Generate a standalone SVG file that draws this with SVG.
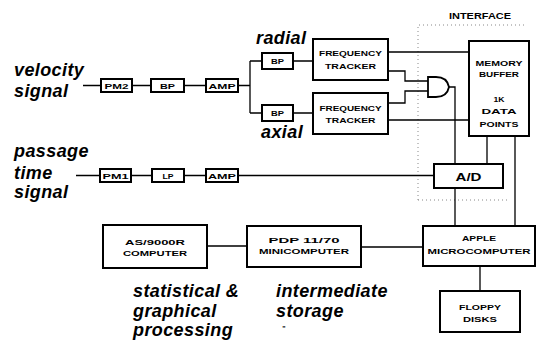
<svg xmlns="http://www.w3.org/2000/svg" width="537" height="340" viewBox="0 0 537 340">
<style>
.bx{fill:#fff;stroke:#000;stroke-width:2}
.ln{fill:none;stroke:#000;stroke-width:1.3}
.gate{fill:#fff;stroke:#000;stroke-width:1.8}
.t{font-family:"Liberation Sans",Arial,sans-serif;font-weight:bold;font-size:8px;text-anchor:middle;fill:#000}
.tb{font-family:"Liberation Sans",Arial,sans-serif;font-weight:bold;font-size:10px;text-anchor:middle;fill:#000}
.lab{font-family:"Liberation Sans",Arial,sans-serif;font-weight:bold;font-style:italic;font-size:18px;letter-spacing:0.4px;fill:#000}
.dot{fill:none;stroke:#888;stroke-width:1;stroke-dasharray:1 3}
</style>
<rect width="537" height="340" fill="#fff"/>

<g id="connectors">
  <path class="dot" d="M418 200 V25 H527 M418 200 H510"/>
  <path class="ln" d="M83 85.5 H101 M132 85.5 H151 M184 85.5 H206 M238 85.5 H250 M250 61 V113 M250 61 H262 M250 113 H262"/>
  <path class="ln" d="M293 61 H313 M293 113 H313"/>
  <path class="ln" d="M388 52 H469 M388 71 H405 V81 H428 M388 103 H405 V91 H428 M388 120 H469"/>
  <path class="ln" d="M449 87 H455 V164"/>
  <path class="ln" d="M487 136 V164 M515 136 V226"/>
  <path class="ln" d="M76 175.5 H100 M131 175.5 H152 M184 175.5 H206 M238 175.5 H434"/>
  <path class="ln" d="M455 188 V226"/>
  <path class="ln" d="M207 246 H247 M361 247 H423 M480 266 V291"/>
</g>

<g id="label-velocity"><text class="lab" x="14" y="76">velocity</text><text class="lab" x="14" y="97">signal</text></g>
<g id="label-passage"><text class="lab" x="14" y="157">passage</text><text class="lab" x="14" y="179">time</text><text class="lab" x="14" y="198">signal</text></g>
<g id="label-radial"><text class="lab" x="256" y="44">radial</text></g>
<g id="label-axial"><text class="lab" x="261" y="138">axial</text></g>
<g id="label-stat"><text class="lab" x="133" y="297">statistical &amp;</text><text class="lab" x="133" y="317">graphical</text><text class="lab" x="133" y="336">processing</text></g>
<g id="label-inter"><text class="lab" x="276" y="297">intermediate</text><text class="lab" x="276" y="317">storage</text><text class="t" x="284" y="331" style="font-size:7px">"</text></g>
<g id="label-interface"><text class="tb" x="480" y="19" style="font-size:9px" textLength="62" lengthAdjust="spacingAndGlyphs">INTERFACE</text></g>

<g id="pm2"><rect class="bx" x="101" y="79" width="31" height="13"/><text class="t" x="116.5" y="88.5" textLength="24" lengthAdjust="spacingAndGlyphs">PM2</text></g>
<g id="bp1"><rect class="bx" x="151" y="79" width="33" height="13"/><text class="t" x="167.5" y="88.5" textLength="15" lengthAdjust="spacingAndGlyphs">BP</text></g>
<g id="amp1"><rect class="bx" x="206" y="79" width="32" height="13"/><text class="t" x="222" y="88.5" textLength="27" lengthAdjust="spacingAndGlyphs">AMP</text></g>

<g id="bp-radial"><rect class="bx" x="262" y="53" width="31" height="16"/><text class="t" x="277.5" y="64" textLength="13" lengthAdjust="spacingAndGlyphs">BP</text></g>
<g id="bp-axial"><rect class="bx" x="262" y="105" width="31" height="16"/><text class="t" x="277.5" y="116" textLength="13" lengthAdjust="spacingAndGlyphs">BP</text></g>

<g id="ft1"><rect class="bx" x="313" y="39" width="75" height="41"/><text class="t" x="350.5" y="56" textLength="63" lengthAdjust="spacingAndGlyphs">FREQUENCY</text><text class="t" x="350.5" y="69" textLength="51" lengthAdjust="spacingAndGlyphs">TRACKER</text></g>
<g id="ft2"><rect class="bx" x="313" y="93" width="75" height="41"/><text class="t" x="350.5" y="111" textLength="62" lengthAdjust="spacingAndGlyphs">FREQUENCY</text><text class="t" x="350.5" y="123" textLength="50" lengthAdjust="spacingAndGlyphs">TRACKER</text></g>

<g id="and-gate"><path class="gate" d="M428 77 H436 Q447 77 449 87 Q447 97 436 97 H428 Z"/></g>

<g id="memory"><rect class="bx" x="469" y="41" width="60" height="95"/>
<text class="t" x="499" y="66" textLength="47" lengthAdjust="spacingAndGlyphs">MEMORY</text>
<text class="t" x="499" y="77" textLength="40" lengthAdjust="spacingAndGlyphs">BUFFER</text>
<text class="t" x="499" y="102" textLength="11" lengthAdjust="spacingAndGlyphs">1K</text>
<text class="t" x="499" y="114" textLength="35" lengthAdjust="spacingAndGlyphs">DATA</text>
<text class="t" x="499" y="127" textLength="39" lengthAdjust="spacingAndGlyphs">POINTS</text></g>

<g id="pm1"><rect class="bx" x="100" y="169" width="31" height="13"/><text class="t" x="115.5" y="178.5" textLength="26" lengthAdjust="spacingAndGlyphs">PM1</text></g>
<g id="lp"><rect class="bx" x="152" y="169" width="32" height="13"/><text class="t" x="168" y="178.5" textLength="11" lengthAdjust="spacingAndGlyphs">LP</text></g>
<g id="amp2"><rect class="bx" x="206" y="169" width="32" height="13"/><text class="t" x="222" y="178.5" textLength="28" lengthAdjust="spacingAndGlyphs">AMP</text></g>

<g id="ad"><rect class="bx" x="434" y="164" width="69" height="24"/><text class="tb" x="468.5" y="180.5" textLength="26" lengthAdjust="spacingAndGlyphs">A/D</text></g>

<g id="as9000"><rect class="bx" x="103" y="225" width="104" height="43"/><text class="t" x="155" y="245" textLength="60" lengthAdjust="spacingAndGlyphs">AS/9000R</text><text class="t" x="155" y="256" textLength="64" lengthAdjust="spacingAndGlyphs">COMPUTER</text></g>
<g id="pdp"><rect class="bx" x="247" y="226" width="114" height="41"/><text class="t" x="304" y="243" textLength="71" lengthAdjust="spacingAndGlyphs">PDP 11/70</text><text class="t" x="304" y="254" textLength="90" lengthAdjust="spacingAndGlyphs">MINICOMPUTER</text></g>
<g id="apple"><rect class="bx" x="423" y="226" width="112" height="40"/><text class="t" x="479" y="241" textLength="34" lengthAdjust="spacingAndGlyphs">APPLE</text><text class="t" x="479" y="254" textLength="103" lengthAdjust="spacingAndGlyphs">MICROCOMPUTER</text></g>
<g id="floppy"><rect class="bx" x="440" y="291" width="80" height="41"/><text class="t" x="480" y="310" textLength="42" lengthAdjust="spacingAndGlyphs">FLOPPY</text><text class="t" x="480" y="322" textLength="34" lengthAdjust="spacingAndGlyphs">DISKS</text></g>
</svg>
